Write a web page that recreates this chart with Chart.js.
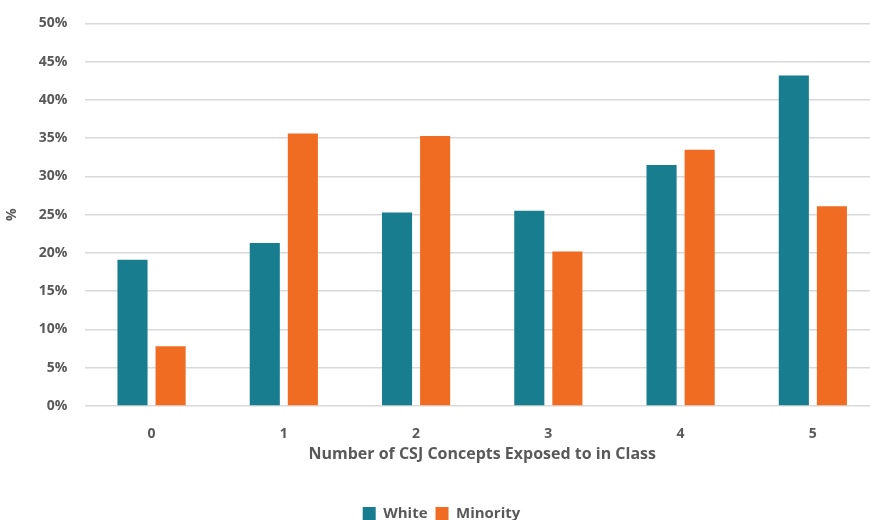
<!DOCTYPE html>
<html>
<head>
<meta charset="utf-8">
<script src="https://cdn.jsdelivr.net/npm/chart.js@4"></script>
<style>
  html, body { margin: 0; padding: 0; background: #fff; overflow: hidden; }
  body { width: 870px; height: 520px; }
  canvas { display: block; margin-top: -3px; }
</style>
</head>
<body>
<canvas id="myChart" width="880" height="534"></canvas>
<script>
// Share of students by number of CSJ concepts they were exposed to
const concepts = ["0", "1", "2", "3", "4", "5"];
const whiteData = [19.1, 21.3, 25.3, 25.5, 31.5, 43.2];
const minorityData = [7.8, 35.6, 35.3, 20.2, 33.5, 26.1];

const textGray = "#595959";
const fontName = "'Open Sans', Lato, sans-serif";

const ctx = document.getElementById("myChart").getContext("2d");

const myChart = new Chart(ctx, {
    type: "bar",
    data: {
        labels: concepts,
        datasets: [{
            label: "White",
            data: whiteData,
            backgroundColor: "#177D8F"
        }, {
            label: "Minority",
            data: minorityData,
            backgroundColor: "#F06C22"
        }]
    },
    options: {
        responsive: false,
        animation: false,
        categoryPercentage: 0.576,
        barPercentage: 0.79,
        layout: {
            padding: { top: 4, right: 1, left: 4, bottom: 0 }
        },
        scales: {
            y: {
                min: 0,
                max: 50,
                ticks: {
                    stepSize: 5,
                    padding: 18,
                    color: textGray,
                    font: { family: fontName, size: 14, weight: "bold" },
                    callback: value => value + "%"
                },
                grid: { color: "#d9d9d9", lineWidth: 1.5, drawTicks: false },
                border: { display: false },
                title: {
                    display: true,
                    text: "%",
                    color: textGray,
                    font: { family: fontName, size: 14, weight: "bold" },
                    padding: 0
                }
            },
            x: {
                ticks: {
                    padding: 20,
                    color: textGray,
                    font: { family: fontName, size: 14, weight: "bold" }
                },
                grid: { display: false, drawTicks: false },
                border: { display: false },
                title: {
                    display: true,
                    text: "Number of CSJ Concepts Exposed to in Class",
                    color: textGray,
                    font: { family: fontName, size: 16, weight: "bold" },
                    padding: { top: -18, bottom: 34 }
                }
            }
        },
        plugins: {
            legend: {
                position: "bottom",
                labels: {
                    boxWidth: 13,
                    boxHeight: 13,
                    padding: 8,
                    color: textGray,
                    font: { family: fontName, size: 15, weight: "bold" }
                }
            },
            tooltip: { enabled: false }
        }
    }
});
</script>
</body>
</html>
